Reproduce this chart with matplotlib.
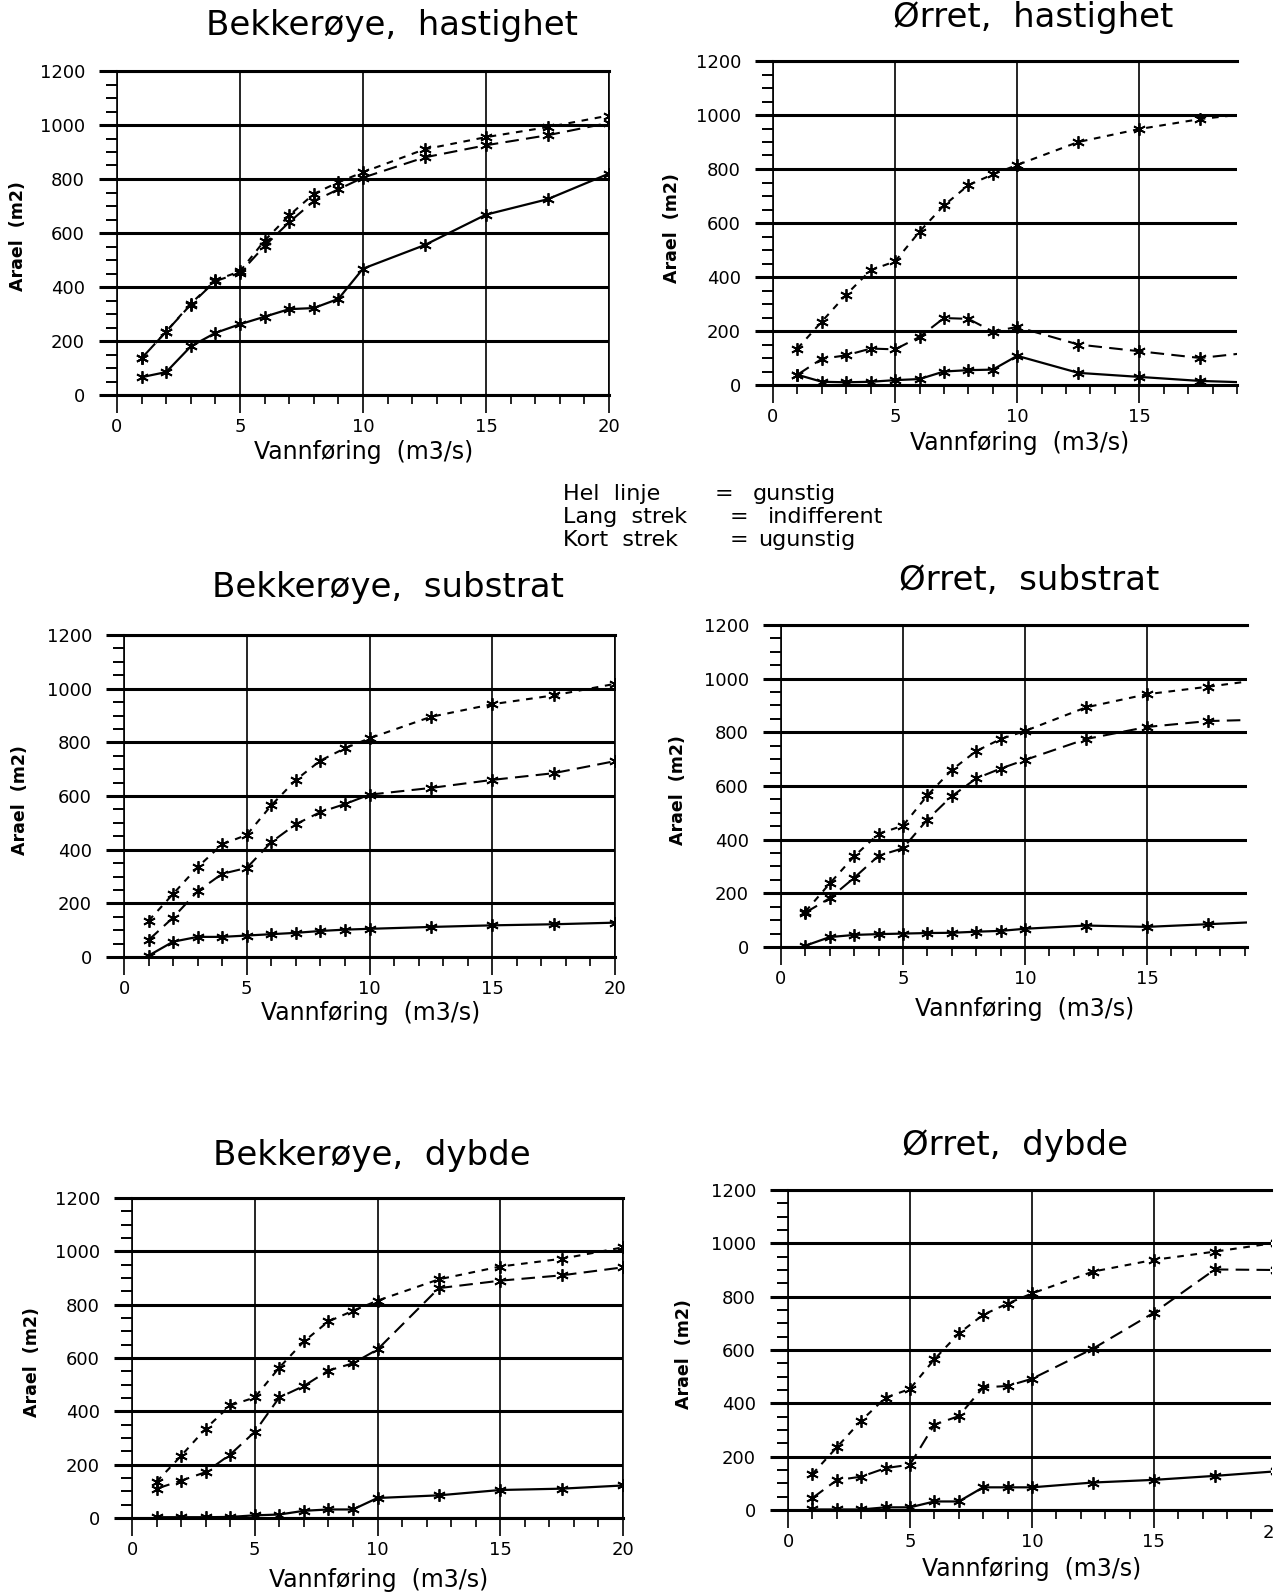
import numpy as np
import matplotlib
matplotlib.use('Agg')
import matplotlib.pyplot as plt
from matplotlib.ticker import MultipleLocator

W, H = 1288, 1595

# vannføring (m3/s) - same x points in all panels
vannforing = [1, 2, 3, 4, 5, 6, 7, 8, 9, 10, 12.5, 15, 17.5, 20]

# Bekkerøye, hastighet
bh_gunstig = [66, 85, 180, 230, 262, 290, 318, 322, 356, 468, 555, 668, 725, 820]
bh_indiff = [136, 235, 335, 422, 452, 552, 640, 718, 762, 805, 880, 925, 962, 1008]
bh_ugunstig = [136, 235, 338, 425, 458, 572, 665, 745, 788, 825, 910, 955, 992, 1035]

# Ørret, hastighet
oh_gunstig = [38, 12, 10, 12, 18, 22, 50, 55, 57, 108, 45, 30, 15, 8]
oh_indiff = [38, 97, 110, 135, 132, 178, 248, 245, 198, 215, 150, 125, 100, 125]
oh_ugunstig = [135, 235, 335, 425, 458, 568, 665, 740, 780, 815, 900, 948, 985, 1010]

# Bekkerøye, substrat
bs_gunstig = [5, 57, 75, 75, 80, 85, 90, 97, 102, 105, 112, 118, 122, 128]
bs_indiff = [63, 147, 245, 310, 332, 428, 495, 540, 570, 605, 630, 660, 685, 730]
bs_ugunstig = [135, 235, 335, 420, 455, 565, 660, 732, 778, 815, 895, 942, 975, 1018]

# Ørret, substrat
os_gunstig = [5, 37, 45, 48, 50, 52, 53, 57, 60, 68, 80, 75, 85, 95]
os_indiff = [128, 182, 258, 340, 368, 475, 562, 628, 665, 697, 775, 820, 842, 848]
os_ugunstig = [132, 237, 338, 422, 452, 565, 660, 730, 775, 805, 893, 942, 970, 1000]

# Bekkerøye, dybde
bd_gunstig = [3, 3, 3, 4, 10, 13, 27, 32, 32, 75, 85, 105, 110, 122]
bd_indiff = [110, 140, 172, 238, 323, 452, 495, 553, 580, 632, 862, 890, 910, 940]
bd_ugunstig = [136, 233, 335, 422, 452, 564, 662, 737, 777, 815, 895, 943, 972, 1015]

# Ørret, dybde
od_gunstig = [2, 2, 2, 10, 10, 32, 32, 85, 85, 85, 103, 113, 128, 145]
od_indiff = [45, 112, 125, 157, 170, 320, 352, 460, 465, 492, 605, 740, 902, 900]
od_ugunstig = [135, 235, 335, 421, 454, 565, 662, 732, 774, 812, 894, 938, 969, 1002]

titles = ["Bekkerøye,  hastighet", "Ørret,  hastighet",
          "Bekkerøye,  substrat", "Ørret,  substrat",
          "Bekkerøye,  dybde", "Ørret,  dybde"]
series = [(bh_gunstig, bh_indiff, bh_ugunstig),
          (oh_gunstig, oh_indiff, oh_ugunstig),
          (bs_gunstig, bs_indiff, bs_ugunstig),
          (os_gunstig, os_indiff, os_ugunstig),
          (bd_gunstig, bd_indiff, bd_ugunstig),
          (od_gunstig, od_indiff, od_ugunstig)]

# layout in pixels: x0, x1, ybottom, ytop, xmax, title pos, xlabel pos, ylabel pos
layout = [
    (117, 609, 395, 71, 20, (392, 25), (364, 452), (18, 236)),
    (773, 1237, 385, 61, 19, (1033, 18), (1020, 443), (672, 228)),
    (124, 615, 957, 635, 20, (388, 588), (371, 1013), (20, 800)),
    (781, 1247, 947, 625, 19.1, (1029, 580), (1025, 1009), (678, 790)),
    (132, 623, 1518, 1198, 20, (372, 1155), (379, 1580), (32, 1362)),
    (788, 1271, 1510, 1190, 19.8, (1015, 1145), (1032, 1569), (684, 1354)),
]

fig = plt.figure(figsize=(12.88, 15.95), dpi=100)

def fx(x):
    return x / W

def fy(y):
    return 1 - y / H

mk = (6, 2, 0)
for (x0, x1, yb, yt, xmax, tpos, xlpos, ylpos), title, (gun, ind, ugu) in zip(layout, titles, series):
    ax = fig.add_axes([fx(x0), fy(yb), (x1 - x0) / W, (yb - yt) / H])
    ax.set_xlim(0, xmax)
    ax.set_ylim(0, 1200)
    ax.xaxis.set_major_locator(MultipleLocator(5))
    ax.xaxis.set_minor_locator(MultipleLocator(1))
    ax.yaxis.set_major_locator(MultipleLocator(200))
    ax.yaxis.set_minor_locator(MultipleLocator(50))
    ax.grid(axis='y', which='major', color='k', lw=2.2)
    ax.grid(axis='x', which='major', color='k', lw=1.2)
    for s in ['top', 'bottom']:
        ax.spines[s].set_linewidth(2.2)
    ax.spines['left'].set_linewidth(1.2)
    if xmax >= 20:
        ax.spines['right'].set_linewidth(1.2)
    else:
        ax.spines['right'].set_visible(False)
    ax.tick_params(axis='y', which='major', length=13, width=2.2, pad=10, labelsize=13)
    ax.tick_params(axis='y', which='minor', length=8, width=1.4)
    ax.tick_params(axis='x', which='major', length=13, width=1.2, pad=3.5, labelsize=13)
    ax.tick_params(axis='x', which='minor', length=6.5, width=1.2)
    ax.set_axisbelow(True)

    ax.plot(vannforing, gun, color='k', lw=1.6, marker=mk, ms=9, mew=1.3)
    ax.plot(vannforing, ind, color='k', lw=1.5, marker=mk, ms=9, mew=1.3,
            dashes=(6.5, 3.5))
    ax.plot(vannforing, ugu, color='k', lw=1.5, marker=mk, ms=9, mew=1.3,
            dashes=(3.2, 3.2))

    fig.text(fx(tpos[0]), fy(tpos[1]), title, fontsize=24.5, ha='center', va='center')
    fig.text(fx(xlpos[0]), fy(xlpos[1]), "Vannføring  (m3/s)", fontsize=17,
             ha='center', va='center')
    fig.text(fx(ylpos[0]), fy(ylpos[1]), "Arael  (m2)", fontsize=12.5, fontweight='bold',
             rotation=90, ha='center', va='center')

# cut-off "20" label at the right edge of the last panel
fig.text(fx(1268), fy(1533), "2", fontsize=13, ha='center', va='center')

# line style key
key_left = ["Hel  linje", "Lang  strek", "Kort  strek"]
key_right = ["gunstig", "indifferent", "ugunstig"]
key_y = [494, 517, 540]
key_eq = [724, 739, 739]
key_val = [753, 768, 758]
for lab, val, y, xe, xv in zip(key_left, key_right, key_y, key_eq, key_val):
    fig.text(fx(563), fy(y), lab, fontsize=16, ha='left', va='center')
    fig.text(fx(xe), fy(y), "=", fontsize=16, ha='center', va='center')
    fig.text(fx(xv), fy(y), val, fontsize=16, ha='left', va='center')

fig.savefig('out.png', dpi=100)
